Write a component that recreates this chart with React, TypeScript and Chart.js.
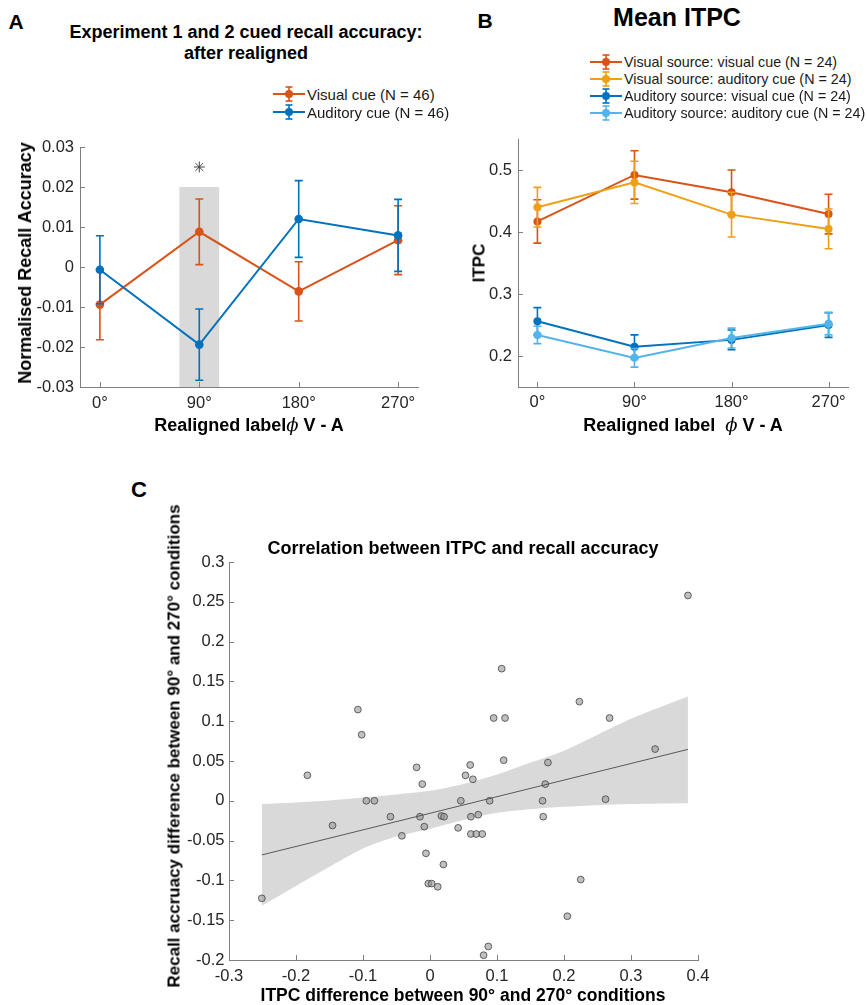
import React, { useEffect, useRef } from 'react';
import { Chart, registerables } from 'chart.js';

Chart.register(...registerables);

const FONT = "'Liberation Sans', Arial, Helvetica, sans-serif";
const AXIS = '#808080';
const TICK_COLOR = '#262626';

// ---------- Panel A data ----------
const phaseDeg = [0, 90, 180, 270];
const phaseTickLabels = ['0°', '90°', '180°', '270°'];
const phaseRange = [-18, 288];
const seriesLabelsA = ['Visual cue (N = 46)', 'Auditory cue (N = 46)'];
const seriesColorsA = ['#D95319', '#0072BD'];
const visualCueMean = [-0.0094, 0.0088, -0.0061, 0.0067];
const visualCueErr = [0.0088, 0.0082, 0.0074, 0.0086];
const auditoryCueMean = [-0.0007, -0.0194, 0.012, 0.0079];
const auditoryCueErr = [0.0085, 0.0089, 0.0096, 0.009];
const accuracyTicks = [-0.03, -0.02, -0.01, 0, 0.01, 0.02, 0.03];
const shadeX = [72, 108];
const shadeY = [-0.03, 0.02];
const starPoint = [90, 0.025];

// ---------- Panel B data ----------
const seriesLabelsB = [
  'Visual source: visual cue (N = 24)',
  'Visual source: auditory cue (N = 24)',
  'Auditory source: visual cue (N = 24)',
  'Auditory source: auditory cue (N = 24)',
];
const seriesColorsB = ['#D95319', '#EDA013', '#0072BD', '#52B4EA'];
const visSrcVisCue = [0.417, 0.492, 0.464, 0.429];
const visSrcVisCueErr = [0.035, 0.039, 0.036, 0.032];
const visSrcAudCue = [0.44, 0.48, 0.428, 0.405];
const visSrcAudCueErr = [0.032, 0.034, 0.036, 0.032];
const audSrcVisCue = [0.256, 0.215, 0.226, 0.25];
const audSrcVisCueErr = [0.022, 0.019, 0.016, 0.02];
const audSrcAudCue = [0.234, 0.197, 0.229, 0.252];
const audSrcAudCueErr = [0.014, 0.015, 0.016, 0.018];
const itpcRange = [0.15, 0.55];
const itpcTicks = [0.2, 0.3, 0.4, 0.5];

// ---------- Panel C data ----------
const itpcDiff = [
  -0.251, -0.183, -0.1455, -0.1076, -0.102, -0.095, -0.083, -0.059, -0.042, -0.02,
  -0.015, -0.0115, -0.0085, -0.006, 0.02, -0.0025, 0.0025, 0.0115, 0.017, 0.021,
  0.042, 0.046, 0.053, 0.385, 0.107, 0.223, 0.095, 0.112, 0.268, 0.336,
  0.11, 0.176, 0.06, 0.064, 0.172, 0.089, 0.168, 0.262, 0.061, 0.072,
  0.061, 0.069, 0.078, 0.169, 0.225, 0.205, 0.087, 0.08,
];
const accuracyDiff = [
  -0.1225, 0.032, -0.031, 0.1146, 0.083, 0, 0, -0.02, -0.044, 0.042,
  -0.02, 0.021, -0.0325, -0.066, -0.08, -0.104, -0.104, -0.108, -0.019, -0.02,
  -0.034, 0, 0.032, 0.258, 0.166, 0.1246, 0.104, 0.104, 0.104, 0.065,
  0.051, 0.048, 0.045, 0.027, 0.021, 0, 0, 0.002, -0.02, -0.0175,
  -0.0417, -0.0417, -0.0417, -0.02, -0.099, -0.145, -0.183, -0.194,
];
const bandX = [-0.251, -0.2, -0.15, -0.1, -0.05, 0, 0.05, 0.1, 0.15, 0.2, 0.25, 0.3, 0.385];
const bandUpper = [-0.004, -0.002, 0.0005, 0.004, 0.008, 0.0125, 0.021, 0.033, 0.048, 0.063, 0.083, 0.103, 0.131];
const bandLower = [-0.132, -0.107, -0.083, -0.06, -0.045, -0.035, -0.024, -0.015, -0.0105, -0.0075, -0.0055, -0.004, -0.003];
const fitX = [-0.251, 0.385];
const fitY = [-0.068, 0.0646];
const corrXTicks = [-0.3, -0.2, -0.1, 0, 0.1, 0.2, 0.3, 0.4];
const corrYTicks = [-0.2, -0.15, -0.1, -0.05, 0, 0.05, 0.1, 0.15, 0.2, 0.25, 0.3];
const corrXRange = [-0.3, 0.4];
const corrYRange = [-0.2, 0.3];

// ---------- helpers ----------
const fmt = (v: number) => {
  const r = Math.round(v * 1000) / 1000;
  return r === 0 ? '0' : String(r);
};

const pts = (xs: number[], ys: number[]) => xs.map((x, i) => ({ x, y: ys[i] }));

function axis(
  min: number,
  max: number,
  ticks: number[],
  label: (v: number) => string,
  isX: boolean,
  size: number,
  padding: number
) {
  return {
    type: 'linear',
    min,
    max,
    afterBuildTicks: (s: any) => {
      s.ticks = ticks.map((v) => ({ value: v }));
    },
    afterFit: (s: any) => {
      if (isX) s.height = size;
      else s.width = size;
    },
    grid: { display: false, drawTicks: false, tickLength: 0 },
    border: { display: true, color: AXIS, width: 1 },
    ticks: {
      color: TICK_COLOR,
      font: { family: FONT, size: 16.5 },
      padding,
      autoSkip: false,
      maxRotation: 0,
      minRotation: 0,
      callback: (v: any) => label(Number(v)),
    },
  };
}

const inwardTicks = {
  id: 'inwardTicks',
  afterDatasetsDraw(chart: any) {
    const { ctx, chartArea } = chart;
    const xs = chart.scales.x;
    const ys = chart.scales.y;
    const len = 5;
    ctx.save();
    ctx.strokeStyle = AXIS;
    ctx.lineWidth = 1;
    ctx.beginPath();
    xs.ticks.forEach((t: any) => {
      const px = Math.round(xs.getPixelForValue(t.value)) + 0.5;
      ctx.moveTo(px, chartArea.bottom);
      ctx.lineTo(px, chartArea.bottom - len);
    });
    ys.ticks.forEach((t: any) => {
      const py = Math.round(ys.getPixelForValue(t.value)) + 0.5;
      ctx.moveTo(chartArea.left, py);
      ctx.lineTo(chartArea.left + len, py);
    });
    ctx.stroke();
    ctx.restore();
  },
};

const errorBars = {
  id: 'errorBars',
  beforeDatasetDraw(chart: any, args: any) {
    const ds: any = chart.data.datasets[args.index];
    if (!ds.errorBars) return;
    const ys = chart.scales.y;
    const ctx = chart.ctx;
    const cap = ds.capHalf ?? 4;
    ctx.save();
    ctx.strokeStyle = ds.borderColor;
    ctx.lineWidth = ds.errorBarWidth ?? 1.6;
    args.meta.data.forEach((el: any, i: number) => {
      const p = ds.data[i];
      const e = ds.errorBars[i];
      const top = ys.getPixelForValue(p.y + e);
      const bot = ys.getPixelForValue(p.y - e);
      ctx.beginPath();
      ctx.moveTo(el.x, top);
      ctx.lineTo(el.x, bot);
      ctx.moveTo(el.x - cap, top);
      ctx.lineTo(el.x + cap, top);
      ctx.moveTo(el.x - cap, bot);
      ctx.lineTo(el.x + cap, bot);
      ctx.stroke();
    });
    ctx.restore();
  },
};

const shadePlugin = {
  id: 'shade',
  beforeDatasetsDraw(chart: any) {
    const { ctx } = chart;
    const xs = chart.scales.x;
    const ys = chart.scales.y;
    const x0 = xs.getPixelForValue(shadeX[0]);
    const x1 = xs.getPixelForValue(shadeX[1]);
    const y0 = ys.getPixelForValue(shadeY[1]);
    const y1 = ys.getPixelForValue(shadeY[0]);
    ctx.save();
    ctx.fillStyle = '#d9d9d9';
    ctx.fillRect(x0, y0, x1 - x0, y1 - y0);
    ctx.restore();
  },
};

const lineSeries = (label: string, color: string, ys: number[], errs: number[], order: number, radius = 4.3) => ({
  type: 'line',
  label,
  data: pts(phaseDeg, ys),
  errorBars: errs,
  borderColor: color,
  backgroundColor: color,
  pointBackgroundColor: color,
  pointBorderColor: color,
  pointRadius: radius,
  pointBorderWidth: 0,
  borderWidth: 2,
  tension: 0,
  fill: false,
  order,
});

const phaseLabel = (v: number) => {
  const i = phaseDeg.indexOf(v);
  return i >= 0 ? phaseTickLabels[i] : '';
};

// ---------- chart factories ----------
function makeA(canvas: HTMLCanvasElement) {
  return new Chart(canvas, {
    type: 'line',
    data: {
      datasets: [
        lineSeries(seriesLabelsA[0], seriesColorsA[0], visualCueMean, visualCueErr, 2),
        lineSeries(seriesLabelsA[1], seriesColorsA[1], auditoryCueMean, auditoryCueErr, 1),
        {
          type: 'line',
          label: 'significance',
          data: [{ x: starPoint[0], y: starPoint[1] }],
          showLine: false,
          pointStyle: 'star',
          pointRadius: 5.5,
          pointBorderColor: '#444',
          pointBorderWidth: 1,
          order: 0,
        },
      ] as any,
    },
    options: {
      responsive: false,
      animation: false,
      layout: { padding: { left: 0, top: 17, right: 22, bottom: 0 } },
      plugins: { legend: { display: false }, tooltip: { enabled: false }, title: { display: false } },
      scales: {
        x: axis(phaseRange[0], phaseRange[1], phaseDeg, phaseLabel, true, 53, 7),
        y: axis(accuracyTicks[0], accuracyTicks[accuracyTicks.length - 1], accuracyTicks, fmt, false, 80, 6),
      } as any,
    },
    plugins: [shadePlugin, errorBars, inwardTicks],
  } as any);
}

function makeB(canvas: HTMLCanvasElement) {
  const means = [visSrcVisCue, visSrcAudCue, audSrcVisCue, audSrcAudCue];
  const errs = [visSrcVisCueErr, visSrcAudCueErr, audSrcVisCueErr, audSrcAudCueErr];
  return new Chart(canvas, {
    type: 'line',
    data: {
      datasets: means.map((m, i) => lineSeries(seriesLabelsB[i], seriesColorsB[i], m, errs[i], 4 - i, 4)) as any,
    },
    options: {
      responsive: false,
      animation: false,
      layout: { padding: { left: 0, top: 19, right: 19, bottom: 0 } },
      plugins: { legend: { display: false }, tooltip: { enabled: false }, title: { display: false } },
      scales: {
        x: axis(phaseRange[0], phaseRange[1], phaseDeg, phaseLabel, true, 53, 6),
        y: axis(itpcRange[0], itpcRange[1], itpcTicks, fmt, false, 78, 6),
      } as any,
    },
    plugins: [errorBars, inwardTicks],
  } as any);
}

function makeC(canvas: HTMLCanvasElement) {
  return new Chart(canvas, {
    type: 'scatter',
    data: {
      datasets: [
        {
          type: 'line',
          label: 'CI upper',
          data: pts(bandX, bandUpper),
          borderWidth: 0,
          borderColor: 'rgba(0,0,0,0)',
          backgroundColor: '#d9d9d9',
          pointRadius: 0,
          fill: '+1',
          tension: 0.3,
          order: 3,
        },
        {
          type: 'line',
          label: 'CI lower',
          data: pts(bandX, bandLower),
          borderWidth: 0,
          borderColor: 'rgba(0,0,0,0)',
          backgroundColor: '#d9d9d9',
          pointRadius: 0,
          fill: false,
          tension: 0.3,
          order: 3,
        },
        {
          type: 'scatter',
          label: 'participants',
          data: pts(itpcDiff, accuracyDiff),
          pointRadius: 3.4,
          pointBackgroundColor: 'rgba(150,150,150,0.6)',
          pointBorderColor: 'rgba(60,60,60,0.85)',
          pointBorderWidth: 0.9,
          order: 2,
        },
        {
          type: 'line',
          label: 'fit',
          data: pts(fitX, fitY),
          borderColor: '#4a4a4a',
          borderWidth: 0.9,
          pointRadius: 0,
          fill: false,
          order: 1,
        },
      ] as any,
    },
    options: {
      responsive: false,
      animation: false,
      layout: { padding: { left: 0, top: 22, right: 22, bottom: 0 } },
      plugins: { legend: { display: false }, tooltip: { enabled: false }, title: { display: false } },
      scales: {
        x: axis(corrXRange[0], corrXRange[1], corrXTicks, fmt, true, 30, 7),
        y: axis(corrYRange[0], corrYRange[1], corrYTicks, fmt, false, 109, 4.5),
      } as any,
    },
    plugins: [inwardTicks],
  } as any);
}

// ---------- components ----------
function ChartCanvas({ left, top, width, height, make }: any) {
  const ref = useRef<HTMLCanvasElement | null>(null);
  useEffect(() => {
    const chart = make(ref.current as HTMLCanvasElement);
    return () => chart.destroy();
  }, []);
  return (
    <canvas
      ref={ref}
      width={width}
      height={height}
      style={{ position: 'absolute', left, top, width, height, display: 'block' }}
    />
  );
}

function Txt({ x, y, size, bold = false, rotate = false, children, color = '#000' }: any) {
  return (
    <div
      style={{
        position: 'absolute',
        left: x,
        top: y,
        transform: `translate(-50%, -50%)${rotate ? ' rotate(-90deg)' : ''}`,
        fontFamily: FONT,
        fontSize: size,
        fontWeight: bold ? 700 : 400,
        whiteSpace: 'nowrap',
        lineHeight: 1,
        color,
      }}
    >
      {children}
    </div>
  );
}

function LegendRow({ x, y, color, label, size }: any) {
  return (
    <div
      style={{
        position: 'absolute',
        left: x,
        top: y - 9,
        height: 18,
        display: 'flex',
        alignItems: 'center',
        whiteSpace: 'nowrap',
      }}
    >
      <svg width={32} height={18} style={{ display: 'block' }}>
        <line x1={0} y1={9} x2={32} y2={9} stroke={color} strokeWidth={2} />
        <line x1={16} y1={2} x2={16} y2={16} stroke={color} strokeWidth={1.6} />
        <line x1={12.5} y1={2} x2={19.5} y2={2} stroke={color} strokeWidth={1.6} />
        <line x1={12.5} y1={16} x2={19.5} y2={16} stroke={color} strokeWidth={1.6} />
        <circle cx={16} cy={9} r={4} fill={color} />
      </svg>
      <span style={{ marginLeft: 2, fontFamily: FONT, fontSize: size, color: '#1a1a1a', lineHeight: 1 }}>{label}</span>
    </div>
  );
}

const Phi = () => (
  <span style={{ fontStyle: 'italic', fontWeight: 400, fontFamily: "'DejaVu Serif', serif" }}>ϕ</span>
);

export default function App() {
  const legendARows = [94, 112];
  const legendBRows = [62, 79, 96, 113];
  return (
    <div
      style={{
        position: 'absolute',
        left: 0,
        top: 0,
        width: 867,
        height: 1005,
        background: '#fff',
        overflow: 'hidden',
      }}
    >
      <ChartCanvas left={0} top={130} width={440} height={310} make={makeA} />
      <ChartCanvas left={440} top={120} width={427} height={320} make={makeB} />
      <ChartCanvas left={120} top={540} width={600} height={450} make={makeC} />

      {/* Panel A text */}
      <Txt x={16} y={21} size={21} bold>A</Txt>
      <Txt x={246} y={32} size={18} bold>Experiment 1 and 2 cued recall accuracy:</Txt>
      <Txt x={246} y={53} size={18} bold>after realigned</Txt>
      {seriesLabelsA.map((l, i) => (
        <LegendRow key={l} x={273} y={legendARows[i]} color={seriesColorsA[i]} label={l} size={15} />
      ))}
      <Txt x={25} y={263} size={18} bold rotate>Normalised Recall Accuracy</Txt>
      <Txt x={249} y={425} size={18} bold>
        Realigned label<Phi /> V - A
      </Txt>

      {/* Panel B text */}
      <Txt x={485} y={20} size={21} bold>B</Txt>
      <Txt x={677} y={17} size={25} bold>Mean ITPC</Txt>
      {seriesLabelsB.map((l, i) => (
        <LegendRow key={l} x={590} y={legendBRows[i]} color={seriesColorsB[i]} label={l} size={14.3} />
      ))}
      <Txt x={479} y={263} size={17} bold rotate>ITPC</Txt>
      <Txt x={683} y={425} size={18} bold>
        Realigned label&nbsp; <Phi /> V - A
      </Txt>

      {/* Panel C text */}
      <Txt x={139} y={490} size={22} bold>C</Txt>
      <Txt x={463} y={548} size={18} bold>Correlation between ITPC and recall accuracy</Txt>
      <Txt x={174} y={746} size={17} bold rotate>Recall accruacy difference between 90° and 270° conditions</Txt>
      <Txt x={463} y={996} size={17.5} bold>ITPC difference between 90° and 270° conditions</Txt>
    </div>
  );
}
